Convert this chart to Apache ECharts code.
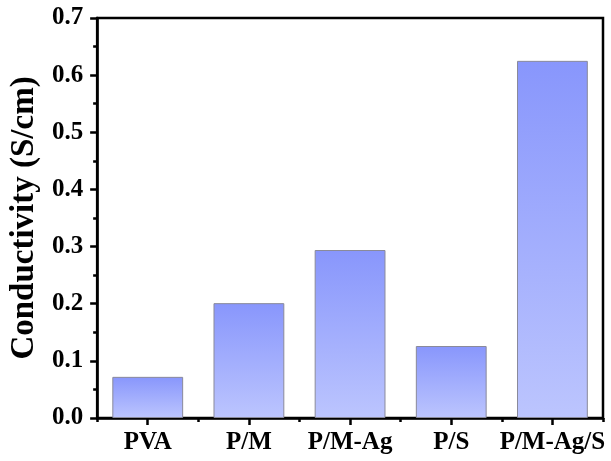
<!DOCTYPE html>
<html><head><meta charset="utf-8">
<script src="https://cdn.jsdelivr.net/npm/echarts@6/dist/echarts.min.js"></script>
<style>html,body{margin:0;padding:0;background:#fff}#c{width:611px;height:461px}</style>
</head><body><div id="c"></div>
<script>
const categories = ['PVA', 'P/M', 'P/M-Ag', 'P/S', 'P/M-Ag/S'];
const conductivity = [0.072, 0.201, 0.294, 0.126, 0.625];
const yTicks = [0, 0.1, 0.2, 0.3, 0.4, 0.5, 0.6, 0.7];

const font = 'Liberation Serif, Times New Roman, serif';
const chart = echarts.init(document.getElementById('c'), null, {renderer: 'canvas'});
chart.setOption({
  animation: false,
  grid: {left: 97, right: 8, top: 18, bottom: 43, show: true, borderColor: '#000', borderWidth: 2.5, backgroundColor: 'transparent'},
  xAxis: [{
    type: 'category', data: categories,
    axisLine: {show: true, lineStyle: {color: '#000', width: 2.5}},
    axisTick: {show: true, alignWithLabel: true, interval: 0, length: 7, lineStyle: {color: '#000', width: 2.5}},
    axisLabel: {color: '#000', fontFamily: font, fontWeight: 'bold', fontSize: 25, margin: 12, interval: 0, hideOverlap: false},
    splitLine: {show: false}
  }, {
    type: 'category', data: categories, position: 'bottom',
    axisLine: {show: false},
    axisTick: {show: true, alignWithLabel: false, interval: 0, length: 4, lineStyle: {color: '#000', width: 2.5}},
    axisLabel: {show: false}, splitLine: {show: false}
  }],
  yAxis: {
    type: 'value', min: yTicks[0], max: yTicks[yTicks.length - 1], interval: 0.1,
    name: 'Conductivity (S/cm)', nameLocation: 'middle', nameGap: 53,
    nameTextStyle: {color: '#000', fontFamily: font, fontWeight: 'bold', fontSize: 33},
    axisLine: {show: true, lineStyle: {color: '#000', width: 2.5}},
    axisTick: {show: true, length: 7, lineStyle: {color: '#000', width: 2.5}},
    minorTick: {show: true, splitNumber: 2, length: 4, lineStyle: {color: '#000', width: 2.5}},
    axisLabel: {color: '#000', fontFamily: font, fontWeight: 'bold', fontSize: 25, margin: 14,
      formatter: v => v.toFixed(1)},
    splitLine: {show: false}
  },
  series: [{
    type: 'bar', data: conductivity, barWidth: '70%', xAxisIndex: 0,
    itemStyle: {
      color: new echarts.graphic.LinearGradient(0, 0, 0, 1, [
        {offset: 0, color: '#8896fc'}, {offset: 1, color: '#bcc5fe'}]),
      borderColor: '#8a8a9a', borderWidth: 1
    }
  }]
});
</script></body></html>
